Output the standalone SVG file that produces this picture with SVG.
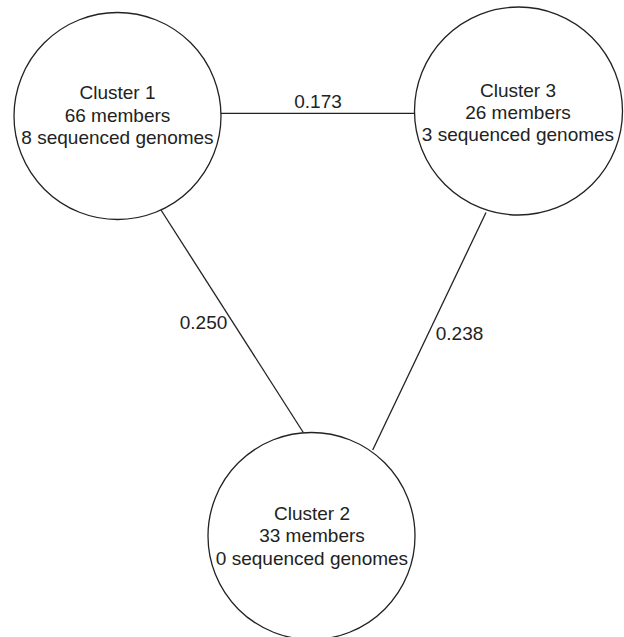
<svg xmlns="http://www.w3.org/2000/svg" width="624" height="637" viewBox="0 0 624 637">
<style>
.n{fill:#fff;stroke:#222;stroke-width:1.3}
.e{stroke:#222;stroke-width:1.3;fill:none}
text{font-family:"Liberation Sans",Arial,sans-serif;font-size:19px;fill:#222;text-anchor:middle}
</style>
<rect width="624" height="637" fill="#fff"/>
<g id="connectors">
<line class="e" x1="221" y1="113.3" x2="414.5" y2="113.3"/>
<line class="e" x1="161" y1="210" x2="303.3" y2="432.5"/>
<line class="e" x1="486" y1="212.5" x2="372.7" y2="450"/>
<text x="318" y="107.7">0.173</text>
<text x="203.5" y="329.3">0.250</text>
<text x="459.5" y="340">0.238</text>
</g>
<g id="cluster1">
<circle class="n" cx="117.5" cy="116" r="103.5"/>
<text x="117.5" y="99.3">Cluster 1</text>
<text x="117.5" y="121.7">66 members</text>
<text x="117.5" y="144">8 sequenced genomes</text>
</g>
<g id="cluster3">
<circle class="n" cx="518.5" cy="111" r="104"/>
<text x="518" y="96.7">Cluster 3</text>
<text x="518" y="119">26 members</text>
<text x="518" y="141.3">3 sequenced genomes</text>
</g>
<g id="cluster2">
<circle class="n" cx="311.5" cy="536" r="103.5"/>
<text x="312" y="520">Cluster 2</text>
<text x="312" y="541.7">33 members</text>
<text x="312" y="564.5">0 sequenced genomes</text>
</g>
</svg>
